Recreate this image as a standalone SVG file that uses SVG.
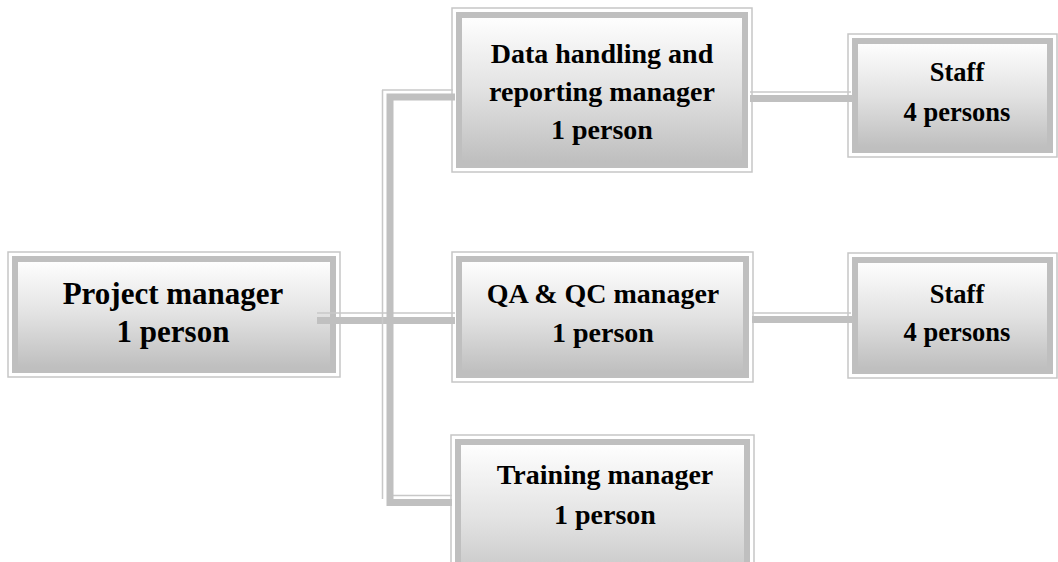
<svg xmlns="http://www.w3.org/2000/svg" width="1058" height="562" viewBox="0 0 1058 562">
  <defs>
    <linearGradient id="g" x1="0" y1="0" x2="0" y2="1">
      <stop offset="0" stop-color="#ffffff"/>
      <stop offset="0.5" stop-color="#e2e2e2"/>
      <stop offset="1" stop-color="#bdbdbd"/>
    </linearGradient>
  </defs>
  <style>
    .outer { fill: #ffffff; stroke: #c6c6c6; stroke-width: 1.5; }
    .inner { fill: url(#g); stroke: #bfbfbf; stroke-width: 6; }
    .t { font-family: "Liberation Serif", "Times New Roman", serif; font-weight: bold; fill: #000000; text-anchor: middle; }
    .big { font-size: 31px; }
    .mid { font-size: 28px; }
    .sm { font-size: 26.5px; }
    .thick { stroke: #c0c0c0; stroke-width: 7; fill: none; }
    .thin { stroke: #c8c8c8; stroke-width: 1.5; fill: none; }
  </style>
  <rect width="1058" height="562" fill="#ffffff"/>

  <g id="project-manager">
    <rect class="outer" x="8" y="252" width="332" height="125"/>
    <rect class="inner" x="15" y="259" width="318" height="111"/>
    <text class="t big" x="173" y="304">Project manager</text>
    <text class="t big" x="173" y="342">1 person</text>
  </g>

  <g id="data-manager">
    <rect class="outer" x="452" y="8" width="300" height="164"/>
    <rect class="inner" x="459" y="15" width="286" height="150"/>
    <text class="t mid" x="602" y="63">Data handling and</text>
    <text class="t mid" x="602" y="101">reporting manager</text>
    <text class="t mid" x="602" y="139">1 person</text>
  </g>

  <g id="qa-qc-manager">
    <rect class="outer" x="452" y="252" width="301" height="130"/>
    <rect class="inner" x="459" y="259" width="287" height="116"/>
    <text class="t mid" x="603" y="303">QA &amp; QC manager</text>
    <text class="t mid" x="603" y="342">1 person</text>
  </g>

  <g id="training-manager">
    <rect class="outer" x="451" y="435" width="303" height="170"/>
    <rect class="inner" x="458" y="442" width="289" height="156"/>
    <text class="t mid" x="605" y="484">Training manager</text>
    <text class="t mid" x="605" y="524">1 person</text>
  </g>

  <g id="staff-1">
    <rect class="outer" x="848" y="34" width="209" height="123"/>
    <rect class="inner" x="855" y="41" width="195" height="109"/>
    <text class="t sm" x="957" y="81">Staff</text>
    <text class="t sm" x="957" y="121">4 persons</text>
  </g>

  <g id="staff-2">
    <rect class="outer" x="848" y="253" width="209" height="125"/>
    <rect class="inner" x="855" y="260" width="195" height="111"/>
    <text class="t sm" x="957" y="303">Staff</text>
    <text class="t sm" x="957" y="341">4 persons</text>
  </g>

  <g id="connectors">
    <!-- project manager to QA & QC and the trunk -->
    <line class="thin" x1="317" y1="313" x2="455" y2="313"/>
    <line class="thick" x1="317" y1="320.5" x2="455" y2="320.5"/>
    <!-- vertical trunk -->
    <line class="thin" x1="382.5" y1="90" x2="382.5" y2="499"/>
    <line class="thin" x1="382" y1="90" x2="453" y2="90"/>
    <line class="thin" x1="393" y1="495.5" x2="452" y2="495.5"/>
    <path class="thick" d="M455 97 H390 V502.5 H452"/>
    <!-- data manager to staff -->
    <line class="thin" x1="750" y1="92" x2="851" y2="92"/>
    <line class="thick" x1="750" y1="98.5" x2="853" y2="98.5"/>
    <!-- QA & QC to staff -->
    <line class="thin" x1="752" y1="313" x2="851" y2="313"/>
    <line class="thick" x1="752" y1="319.5" x2="853" y2="319.5"/>
  </g>
</svg>
